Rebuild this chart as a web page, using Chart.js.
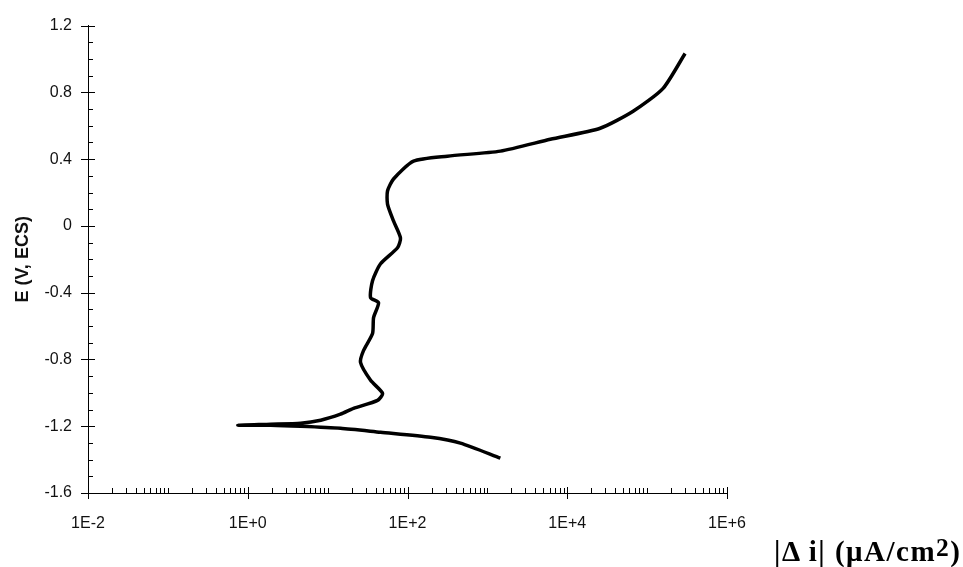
<!DOCTYPE html>
<html>
<head>
<meta charset="utf-8">
<script src="https://cdn.jsdelivr.net/npm/chart.js@4.4.1/dist/chart.umd.min.js"></script>
<style>
  html, body { margin: 0; padding: 0; background: #fff; }
  .wrap { position: relative; width: 963px; height: 567px; }
  .xtitle {
    position: absolute;
    left: 774px;
    top: 537px;
    font: bold 29px "Liberation Serif", "Times New Roman", serif;
    line-height: 29px;
    letter-spacing: 1.5px;
    color: #000;
    white-space: nowrap;
  }
  .xtitle sup { font-size: 88%; vertical-align: baseline; position: relative; top: -5px; }
</style>
</head>
<body>
<div class="wrap">
  <canvas id="myChart" width="963" height="567"></canvas>
  <div class="xtitle">|&Delta; i| (&mu;A/cm<sup>2</sup>)</div>
</div>
<script>
const ctx = document.getElementById("myChart").getContext("2d");

// polarisation curve (cathodic branch first, then anodic)
const current = [
  1454, 460, 194, 46, 14.5, 4.6, 1.94, 0.75,
  1.94, 4.6, 8.2, 14.5, 21.1, 42.2, 48.7, 34.5, 25.8, 28.2, 36.5, 37.6,
  43.4, 34.5, 36.5, 46, 75, 81.7, 66.8, 56.2, 56.2, 66.8, 119, 316,
  1454, 6131, 25860, 66800, 158500, 298500,
];
const potential = [
  -1.391, -1.301, -1.266, -1.236, -1.212, -1.2, -1.194, -1.194,
  -1.188, -1.182, -1.164, -1.128, -1.093, -1.045, -1.003, -0.925, -0.818, -0.746, -0.645, -0.549,
  -0.46, -0.43, -0.328, -0.227, -0.131, -0.072, 0.03, 0.131, 0.209, 0.281, 0.388, 0.418,
  0.448, 0.519, 0.585, 0.687, 0.824, 1.033,
];

const xTicks = [1e-2, 1, 1e2, 1e4, 1e6];
const xTickLabels = ["1E-2", "1E+0", "1E+2", "1E+4", "1E+6"];
const yTicks = [-1.6, -1.2, -0.8, -0.4, 0, 0.4, 0.8, 1.2];
const yTickLabels = ["-1.6", "-1.2", "-0.8", "-0.4", "0", "0.4", "0.8", "1.2"];

const points = current.map((c, i) => ({ x: c, y: potential[i] }));

// small tick marks like the old spreadsheet plot
const tickMarks = {
  id: "tickMarks",
  afterDraw(chart) {
    const c = chart.ctx;
    const xs = chart.scales.x;
    const ys = chart.scales.y;
    const x0 = xs.left;
    const y0 = ys.bottom;
    c.save();
    c.strokeStyle = "#000";
    c.lineWidth = 1;
    c.beginPath();
    // x axis
    for (let k = -2; k <= 6; k++) {
      const px = Math.round(xs.getPixelForValue(Math.pow(10, k))) + 0.5;
      if (k % 2 === 0) {
        c.moveTo(px, y0 - 6);
        c.lineTo(px, y0 + 6);
      } else {
        c.moveTo(px, y0 - 5);
        c.lineTo(px, y0);
      }
      if (k < 6) {
        for (let m = 2; m <= 9; m++) {
          const mx = Math.round(xs.getPixelForValue(m * Math.pow(10, k))) + 0.5;
          c.moveTo(mx, y0 - 5);
          c.lineTo(mx, y0);
        }
      }
    }
    // y axis
    for (let i = 0; i <= 28; i++) {
      const v = -1.6 + i * 0.1;
      const py = Math.round(ys.getPixelForValue(v)) + 0.5;
      if (i % 4 === 0) {
        c.moveTo(x0 - 7, py);
        c.lineTo(x0 + 7, py);
      } else {
        c.moveTo(x0, py);
        c.lineTo(x0 + 5, py);
      }
    }
    c.stroke();
    c.restore();
  },
};

const chart = new Chart(ctx, {
  type: "line",
  data: {
    datasets: [
      {
        data: points,
        borderColor: "#000",
        borderWidth: 3.5,
        pointRadius: 0,
        tension: 0.22,
        fill: false,
      },
    ],
  },
  options: {
    responsive: false,
    animation: false,
    layout: { padding: { top: 24, right: 236, bottom: 0, left: 0 } },
    plugins: { legend: { display: false }, tooltip: { enabled: false } },
    scales: {
      x: {
        type: "logarithmic",
        min: 1e-2,
        max: 1e6,
        afterFit: (s) => { s.height = 74; },
        afterBuildTicks: (s) => { s.ticks = xTicks.map((v) => ({ value: v })); },
        grid: { display: false, drawTicks: false },
        border: { display: true, color: "#000", width: 1 },
        ticks: {
          autoSkip: false,
          maxRotation: 0,
          padding: 21,
          color: "#111",
          font: { family: "Liberation Sans", size: 16 },
          callback: (v, i) => xTickLabels[i],
        },
      },
      y: {
        min: -1.6,
        max: 1.2,
        afterFit: (s) => { s.width = 88; },
        afterBuildTicks: (s) => { s.ticks = yTicks.map((v) => ({ value: v })); },
        grid: { display: false, drawTicks: false },
        border: { display: true, color: "#000", width: 1 },
        ticks: {
          padding: 16,
          color: "#111",
          font: { family: "Liberation Sans", size: 16 },
          callback: (v, i) => yTickLabels[i],
        },
        title: {
          display: true,
          text: "E (V, ECS)",
          color: "#111",
          padding: { top: 12, bottom: 0 },
          font: { family: "Liberation Sans", size: 18, weight: "bold" },
        },
      },
    },
  },
  plugins: [tickMarks],
});
</script>
</body>
</html>
